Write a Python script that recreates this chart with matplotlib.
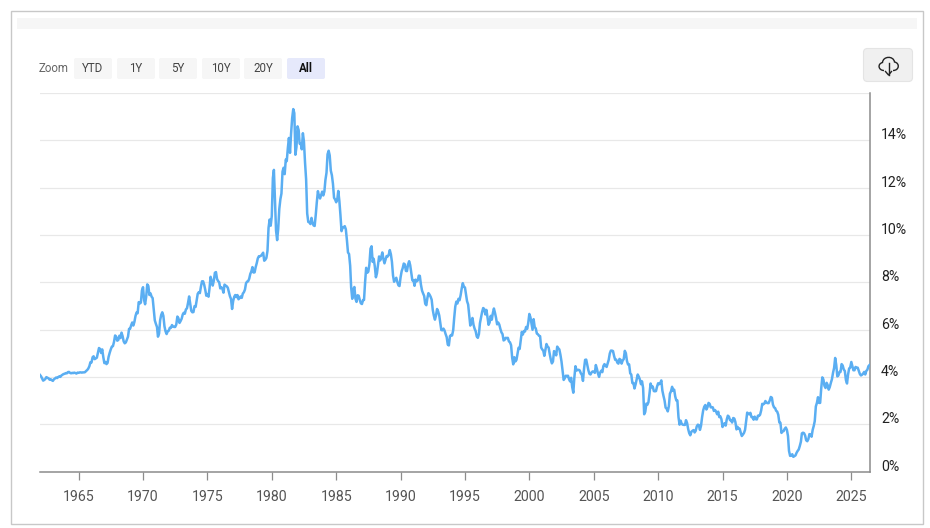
import matplotlib
matplotlib.use('Agg')
import matplotlib.pyplot as plt
import matplotlib.dates as mdates
from matplotlib.patches import FancyBboxPatch, Rectangle, PathPatch
from matplotlib.path import Path
from matplotlib.transforms import ScaledTranslation
import pandas as pd

plt.rcParams['font.family'] = ['Roboto', 'DejaVu Sans']

# monthly yield readings (%), Jan 1962 onwards
y1960s = [4.08, 4.02, 3.93, 3.84, 3.87, 3.91, 3.99, 3.96, 3.94, 3.88, 3.90, 3.86,
          3.83, 3.90, 3.93, 3.97, 3.95, 3.99, 4.02, 4.00, 4.06, 4.09, 4.12, 4.13,
          4.16, 4.15, 4.20, 4.21, 4.17, 4.15, 4.17, 4.16, 4.18, 4.16, 4.14, 4.18,
          4.17, 4.19, 4.19, 4.18, 4.19, 4.19, 4.20, 4.25, 4.29, 4.35, 4.45, 4.62,
          4.61, 4.83, 4.87, 4.75, 4.78, 4.81, 5.02, 5.22, 5.18, 5.01, 5.16, 4.84,
          4.58, 4.63, 4.54, 4.59, 4.85, 5.02, 5.16, 5.28, 5.30, 5.48, 5.75, 5.70,
          5.53, 5.56, 5.74, 5.64, 5.87, 5.72, 5.50, 5.42, 5.46, 5.58, 5.70, 6.03,
          6.04, 6.19, 6.30, 6.17, 6.32, 6.57, 6.72, 6.69, 7.16, 7.10, 7.14, 7.65]
y1970s = [7.79, 7.24, 7.07, 7.39, 7.91, 7.84, 7.46, 7.53, 7.39, 7.33, 6.84, 6.39,
          6.24, 6.11, 5.70, 5.83, 6.39, 6.62, 6.73, 6.58, 6.14, 5.93, 5.81, 5.93,
          5.95, 6.08, 6.07, 6.19, 6.13, 6.11, 6.11, 6.21, 6.55, 6.48, 6.28, 6.36,
          6.46, 6.64, 6.71, 6.67, 6.85, 6.90, 7.13, 7.40, 7.09, 6.79, 6.73, 6.74,
          6.99, 6.96, 7.21, 7.51, 7.58, 7.54, 7.81, 8.04, 8.04, 7.90, 7.68, 7.43,
          7.50, 7.39, 7.73, 8.23, 8.06, 7.86, 8.06, 8.40, 8.43, 8.14, 8.05, 8.00,
          7.74, 7.79, 7.73, 7.56, 7.90, 7.86, 7.83, 7.77, 7.59, 7.41, 7.29, 6.87,
          7.21, 7.39, 7.46, 7.37, 7.46, 7.28, 7.33, 7.40, 7.34, 7.52, 7.58, 7.69,
          7.96, 8.03, 8.04, 8.15, 8.35, 8.46, 8.64, 8.41, 8.42, 8.64, 8.81, 9.01,
          9.10, 9.10, 9.12, 9.18, 9.25, 8.91, 8.95, 9.03, 9.33, 10.30, 10.65, 10.39]
y1980s = [10.80, 12.41, 12.75, 11.47, 10.18, 9.78, 10.25, 11.10, 11.51, 11.75, 12.68, 12.84,
          12.57, 13.19, 13.12, 13.68, 14.10, 13.47, 14.28, 14.94, 15.32, 15.15, 13.39, 13.72,
          14.59, 14.43, 13.86, 13.87, 13.62, 14.30, 13.95, 13.06, 12.34, 10.91, 10.55, 10.54,
          10.46, 10.72, 10.51, 10.40, 10.38, 10.85, 11.38, 11.85, 11.65, 11.54, 11.69, 11.83,
          11.67, 11.84, 12.32, 12.63, 13.41, 13.56, 13.36, 12.72, 12.52, 12.16, 11.57, 11.50,
          11.38, 11.51, 11.86, 11.43, 10.85, 10.16, 10.31, 10.33, 10.37, 10.24, 9.78, 9.26,
          9.19, 8.70, 7.78, 7.30, 7.71, 7.80, 7.30, 7.17, 7.45, 7.43, 7.25, 7.11,
          7.08, 7.25, 7.25, 8.02, 8.61, 8.40, 8.45, 8.76, 9.42, 9.52, 8.86, 8.99,
          8.67, 8.21, 8.37, 8.72, 9.09, 8.92, 9.06, 9.26, 8.98, 8.80, 8.96, 9.11,
          9.09, 9.17, 9.36, 9.18, 8.86, 8.28, 8.02, 8.11, 8.19, 8.01, 7.87, 7.84]
y1990s = [8.21, 8.47, 8.59, 8.79, 8.76, 8.48, 8.47, 8.75, 8.89, 8.72, 8.39, 8.08,
          8.09, 7.85, 8.11, 8.04, 8.07, 8.28, 8.27, 7.90, 7.65, 7.53, 7.42, 7.09,
          7.03, 7.34, 7.54, 7.48, 7.39, 7.26, 6.84, 6.59, 6.42, 6.59, 6.87, 6.77,
          6.60, 6.26, 5.98, 5.97, 6.04, 5.96, 5.81, 5.68, 5.36, 5.33, 5.72, 5.77,
          5.75, 5.97, 6.48, 6.97, 7.18, 7.10, 7.30, 7.24, 7.46, 7.74, 7.96, 7.81,
          7.78, 7.47, 7.20, 7.06, 6.63, 6.17, 6.28, 6.49, 6.20, 6.04, 5.93, 5.71,
          5.65, 5.81, 6.27, 6.51, 6.74, 6.91, 6.87, 6.64, 6.83, 6.53, 6.20, 6.30,
          6.58, 6.42, 6.69, 6.89, 6.71, 6.49, 6.22, 6.30, 6.21, 6.03, 5.88, 5.81,
          5.54, 5.57, 5.65, 5.64, 5.65, 5.50, 5.46, 5.34, 4.81, 4.53, 4.83, 4.65,
          4.72, 5.00, 5.23, 5.18, 5.54, 5.90, 5.79, 5.94, 5.92, 6.11, 6.03, 6.28]
y2000s = [6.66, 6.52, 6.26, 5.99, 6.44, 6.10, 6.05, 5.83, 5.80, 5.74, 5.72, 5.24,
          5.16, 5.10, 4.89, 5.14, 5.39, 5.28, 5.24, 4.97, 4.73, 4.57, 4.65, 5.09,
          5.04, 4.91, 5.28, 5.21, 5.16, 4.93, 4.65, 4.26, 3.87, 3.94, 4.05, 4.03,
          4.05, 3.90, 3.81, 3.96, 3.57, 3.33, 3.98, 4.45, 4.27, 4.29, 4.30, 4.27,
          4.15, 4.08, 3.83, 4.35, 4.72, 4.73, 4.50, 4.28, 4.13, 4.10, 4.19, 4.23,
          4.22, 4.17, 4.50, 4.34, 4.14, 4.00, 4.18, 4.26, 4.20, 4.46, 4.54, 4.47,
          4.42, 4.57, 4.72, 4.99, 5.11, 5.11, 5.09, 4.88, 4.72, 4.73, 4.60, 4.56,
          4.76, 4.72, 4.56, 4.69, 4.75, 5.10, 5.00, 4.67, 4.52, 4.53, 4.15, 4.10,
          3.74, 3.74, 3.51, 3.68, 3.88, 4.10, 4.01, 3.89, 3.69, 3.81, 3.53, 2.42,
          2.52, 2.87, 2.82, 2.93, 3.29, 3.72, 3.56, 3.59, 3.40, 3.39, 3.40, 3.59]
y2010s = [3.73, 3.69, 3.73, 3.85, 3.42, 3.20, 3.01, 2.70, 2.65, 2.54, 2.76, 3.29,
          3.39, 3.58, 3.41, 3.46, 3.17, 3.00, 3.00, 2.30, 1.98, 2.15, 2.01, 1.98,
          1.97, 1.97, 2.17, 2.05, 1.80, 1.62, 1.53, 1.68, 1.72, 1.75, 1.65, 1.72,
          1.91, 1.98, 1.96, 1.76, 1.93, 2.30, 2.58, 2.74, 2.81, 2.62, 2.72, 2.90,
          2.86, 2.71, 2.72, 2.71, 2.56, 2.60, 2.54, 2.42, 2.53, 2.30, 2.33, 2.21,
          1.88, 1.98, 2.04, 1.94, 2.20, 2.36, 2.32, 2.17, 2.17, 2.07, 2.26, 2.24,
          2.09, 1.78, 1.89, 1.81, 1.81, 1.64, 1.50, 1.56, 1.63, 1.76, 2.14, 2.49,
          2.43, 2.42, 2.48, 2.30, 2.30, 2.19, 2.32, 2.21, 2.20, 2.36, 2.35, 2.40,
          2.58, 2.86, 2.84, 2.87, 2.98, 2.91, 2.89, 2.89, 3.00, 3.15, 3.12, 2.83,
          2.71, 2.68, 2.57, 2.53, 2.40, 2.07, 2.06, 1.63, 1.70, 1.71, 1.81, 1.86]
y2020s = [1.76, 1.50, 0.87, 0.66, 0.67, 0.73, 0.62, 0.65, 0.68, 0.79, 0.87, 0.93,
          1.08, 1.26, 1.61, 1.64, 1.62, 1.52, 1.32, 1.28, 1.37, 1.58, 1.56, 1.47,
          1.76, 1.93, 2.13, 2.75, 2.90, 3.14, 2.90, 2.90, 3.52, 3.98, 3.89, 3.62,
          3.53, 3.75, 3.66, 3.46, 3.57, 3.75, 3.90, 4.17, 4.38, 4.80, 4.50, 4.02,
          4.06, 4.21, 4.21, 4.54, 4.48, 4.31, 4.25, 3.87, 3.72, 4.10, 4.36, 4.39,
          4.63, 4.45, 4.28, 4.28, 4.42, 4.38, 4.39, 4.26, 4.12, 4.06, 4.09, 4.14,
          4.21, 4.10, 4.25, 4.30, 4.45, 4.50]

year_ticks = list(range(1965, 2030, 5))
pct_ticks = [0, 2, 4, 6, 8, 10, 12, 14]
zoom_labels = ['YTD', '1Y', '5Y', '10Y', '20Y', 'All']

values = y1960s + y1970s + y1980s + y1990s + y2000s + y2010s + y2020s
dates = pd.date_range('1962-01-01', periods=len(values), freq='MS')

W, H = 930, 528
fig = plt.figure(figsize=(W / 100, H / 100), dpi=100, facecolor='white')

# page furniture in pixel coordinates
ui = fig.add_axes([0, 0, 1, 1], zorder=0)
ui.set_xlim(0, W)
ui.set_ylim(H, 0)
ui.axis('off')
ui.add_patch(Rectangle((11, 11), 912, 513, fc='white', ec='#c8c8c8', lw=1))
ui.add_patch(Rectangle((17, 18), 900, 10.5, fc='#f6f6f6', ec='none'))
ui.text(39, 69, 'Zoom', fontsize=8.3, color='#666666', va='center')

button_lefts = [74, 117, 159, 202, 244, 287]
for left, label in zip(button_lefts, zoom_labels):
    active = label == 'All'
    ui.add_patch(FancyBboxPatch((left, 58), 38, 21, boxstyle='round,pad=0,rounding_size=2',
                                fc='#e6e9fb' if active else '#f6f6f6', ec='none'))
    ui.text(left + 19, 68.5, label, fontsize=8.3, ha='center', va='center',
            color='#111111' if active else '#444444', fontweight='bold' if active else 'normal')

# download button, cloud with arrow
ui.add_patch(FancyBboxPatch((863.5, 48.5), 49, 33, boxstyle='round,pad=0,rounding_size=4',
                            fc='#f0f0f0', ec='#e4e4e4', lw=0.8))
cloud_verts = [(884, 70.5),
               (878.5, 70.5), (877, 64), (882.5, 62.5),
               (883, 56), (893.5, 55.5), (894.5, 62),
               (900, 63), (899.5, 70.5), (893, 70.5)]
cloud_codes = [Path.MOVETO] + [Path.CURVE4] * 9
ui.add_patch(PathPatch(Path(cloud_verts, cloud_codes), fc='none', ec='#222222', lw=1))
ui.plot([888.5, 888.5], [63, 75], color='#222222', lw=1)
ui.plot([885.5, 888.5, 891.5], [71.5, 75, 71.5], color='#222222', lw=1)

# chart area, 40..870 px across and 93..471.5 px down
ax = fig.add_axes([40 / W, 1 - 471.5 / H, 830 / W, 378.5 / H], zorder=1)
ax.patch.set_alpha(0)
ax.plot(dates, values, color='#5aaef2', lw=1.8, solid_joinstyle='round', zorder=3)

ax.set_xlim(pd.Timestamp('1962-01-01'), pd.Timestamp('2026-06-15'))
ax.set_ylim(0, 16)
ax.set_xticks([pd.Timestamp(f'{y}-01-01') for y in year_ticks])
ax.xaxis.set_major_formatter(mdates.DateFormatter('%Y'))
ax.set_yticks(pct_ticks + [16])
ax.set_yticklabels([f'{p}%' for p in pct_ticks] + [''])
ax.yaxis.tick_right()
ax.grid(axis='y', color='#e8e8e8', lw=0.9)
ax.set_axisbelow(True)

for side in ['top', 'left']:
    ax.spines[side].set_visible(False)
for side in ['right', 'bottom']:
    ax.spines[side].set_color('#8c8c8c')
    ax.spines[side].set_linewidth(1.1)

ax.tick_params(axis='x', length=6, width=0.9, color='#8c8c8c', labelsize=10.2, labelcolor='#555555', pad=7)
ax.tick_params(axis='y', length=0, labelsize=10.2, labelcolor='#222222', pad=8)

# labels sit just above their gridlines
nudge = ScaledTranslation(0, -1.5 / 72, fig.dpi_scale_trans)
for lab in ax.get_yticklabels():
    lab.set_va('bottom')
    lab.set_transform(lab.get_transform() + nudge)

fig.savefig('out.png', dpi=100)
